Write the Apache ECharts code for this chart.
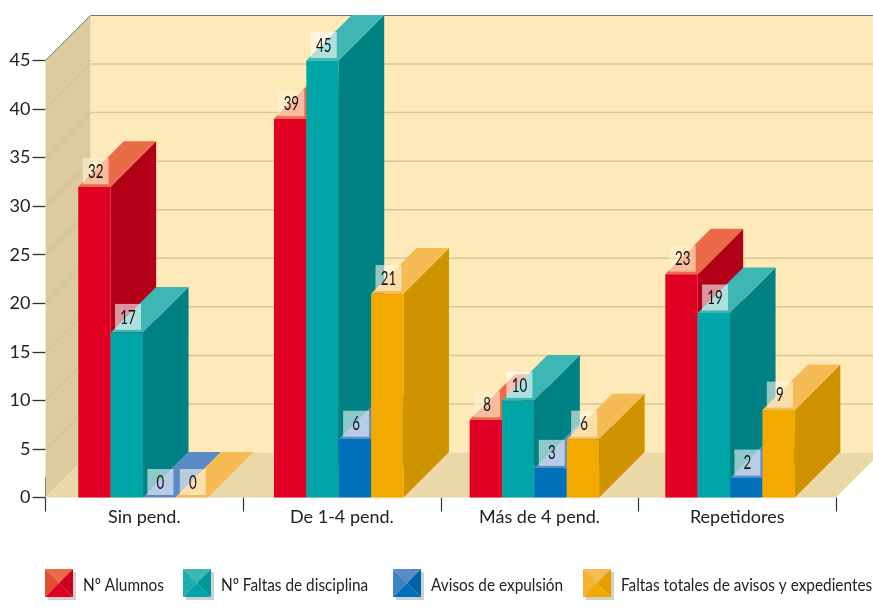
<!DOCTYPE html>
<html>
<head>
<meta charset="utf-8">
<style>html,body{margin:0;padding:0;background:#fff}#chart{width:873px;height:612px}</style>
<script src="https://cdn.jsdelivr.net/npm/echarts@6/dist/echarts.min.js"></script>
</head>
<body>
<div id="chart"></div>
<script>
const categories = ['Sin pend.', 'De 1-4 pend.', 'Más de 4 pend.', 'Repetidores'];
const alumnos = [32, 39, 8, 23];
const faltasDisciplina = [17, 45, 10, 19];
const avisosExpulsion = [0, 6, 3, 2];
const faltasTotales = [0, 21, 6, 9];
const yTicks = [0, 5, 10, 15, 20, 25, 30, 35, 40, 45];

const seriesNames = ['Nº Alumnos', 'Nº Faltas de disciplina', 'Avisos de expulsión', 'Faltas totales de avisos y expedientes'];
const seriesValues = [alumnos, faltasDisciplina, avisosExpulsion, faltasTotales];
const legendLefts = [45, 183, 393, 583];

// Face colours for each box: front, side, top, value tag, plus the two extra bevels of the key swatch
const palettes = [
  { front: '#E00024', side: '#B10018', top: '#EB6A48', tag: 'rgba(255,243,212,0.6)', bevelL: '#E54D33', bevelR: '#CB0020' },
  { front: '#00A5A8', side: '#008285', top: '#3DB6B4', tag: 'rgba(255,255,255,0.58)', bevelL: '#1CADAE', bevelR: '#00989B' },
  { front: '#0070BA', side: '#005C9A', top: '#5B8BC6', tag: 'rgba(255,255,255,0.56)', bevelL: '#3F83C4', bevelR: '#0063A8' },
  { front: '#F2A900', side: '#D09300', top: '#F5BB54', tag: 'rgba(255,250,235,0.58)', bevelL: '#F4B233', bevelR: '#E49E00' }
];

const WALL_DEPTH = 45;
const BAR_DEPTH = 45.5;
const BAR_SHARE = 0.1655;
const SANS = 'Lato, "Open Sans", sans-serif';

const poly = (points, fill) => ({ type: 'polygon', shape: { points }, style: { fill } });
const seg = (x1, y1, x2, y2, stroke, lineWidth) => ({
  type: 'line', shape: { x1, y1, x2, y2 }, style: { stroke, lineWidth }
});

// Back wall, side wall, floor and their rulings
function renderRoom(params, api) {
  const cs = params.coordSys;
  const x0 = cs.x, x1 = cs.x + cs.width;
  const y0 = api.coord([0, 0])[1];
  const yTop = api.coord([0, yTicks[yTicks.length - 1]])[1];
  const d = WALL_DEPTH;
  const children = [
    poly([[x0 + d, yTop - d], [x1 + d, yTop - d], [x1 + d, y0 - d], [x0 + d, y0 - d]], '#FEE9B8'),
    poly([[x0, yTop], [x0 + d, yTop - d], [x0 + d, y0 - d], [x0, y0]], '#DDCB9F'),
    poly([[x0, y0], [x0 + d, y0 - d], [x1 + d, y0 - d], [x1, y0]], '#EAD8A7')
  ];
  yTicks.slice(1, -1).forEach(v => {
    const y = api.coord([0, v])[1];
    children.push(seg(x0, y, x0 + d, y - d, '#CDBC92', 1));
    children.push(seg(x0 + d, y - d, x1 + d, y - d, '#D9C699', 1.5));
  });
  children.push(seg(x0, yTop, x0 + d, yTop - d, '#7C7360', 1));
  children.push(seg(x0 + d, yTop - d, x1 + d, yTop - d, '#7C7360', 1.2));
  children.push(seg(x0, y0 - 20, x0, y0, '#8A8370', 1));
  return { type: 'group', children };
}

// One extruded box per value, with its value tag sitting on the top face
function boxRenderer(seriesIndex) {
  const pal = palettes[seriesIndex];
  return function (params, api) {
    const cat = api.value(0), val = api.value(1);
    const [cx, yVal] = api.coord([cat, val]);
    const y0 = api.coord([cat, 0])[1];
    const w = api.size([1, 0])[0] * BAR_SHARE;
    const left = cx + (seriesIndex - seriesValues.length / 2) * w;
    const right = left + w;
    const d = BAR_DEPTH;
    const children = [
      poly([[right, y0], [right + d, y0 - d], [right + d, yVal - d], [right, yVal]], pal.side),
      poly([[left, yVal], [left + d, yVal - d], [right + d, yVal - d], [right, yVal]], pal.top),
      poly([[left, y0], [right, y0], [right, yVal], [left, yVal]], pal.front),
      { type: 'rect', shape: { x: left + 4.4, y: yVal - 28.5, width: 26, height: 26 },
        style: { fill: pal.tag } },
      { type: 'text', x: left + 17.4, y: yVal - 15, scaleX: 0.7, scaleY: 1,
        style: { text: String(val), font: '19px ' + SANS, fill: '#111',
                 align: 'center', verticalAlign: 'middle' } }
    ];
    return { type: 'group', children };
  };
}

// Bevelled square used as the key swatch, with its soft drop edge
function swatchIcon(pal) {
  const svg = `<svg xmlns="http://www.w3.org/2000/svg" width="31" height="31" viewBox="0 0 31 31">
<rect x="3" y="3" width="28" height="28" fill="#D0D0D0"/>
<polygon points="0,0 28,0 14,14" fill="${pal.top}"/>
<polygon points="0,0 14,14 0,28" fill="${pal.bevelL}"/>
<polygon points="28,0 28,28 14,14" fill="${pal.bevelR}"/>
<polygon points="0,28 14,14 28,28" fill="${pal.front}"/>
</svg>`;
  return 'image://data:image/svg+xml;charset=utf-8,' + encodeURIComponent(svg);
}

const chart = echarts.init(document.getElementById('chart'), null, { renderer: 'canvas' });

const option = {
  animation: false,
  backgroundColor: '#fff',
  grid: [
    { left: 45.5, right: 37, top: 60.5, bottom: 114.5 },
    { left: 45.2, width: 782.7, top: 60.5, bottom: 114.5 }
  ],
  xAxis: [
    {
      type: 'category', gridIndex: 0, data: categories,
      axisLine: { show: false },
      axisTick: { show: true, length: 14, lineStyle: { color: '#333', width: 1.2 } },
      axisLabel: { color: '#222', fontFamily: SANS, fontSize: 18, margin: 11 }
    },
    { type: 'category', gridIndex: 1, data: categories, show: false }
  ],
  yAxis: [
    {
      type: 'value', gridIndex: 0, min: 0, max: 45, interval: 5,
      axisLine: { show: false },
      axisTick: { show: true, length: 13, lineStyle: { color: '#333', width: 1.3 } },
      axisLabel: { color: '#222', fontFamily: SANS, fontSize: 18, margin: 15 },
      splitLine: { show: false }
    },
    { type: 'value', gridIndex: 1, min: 0, max: 45, interval: 5, show: false }
  ],
  legend: seriesNames.map((name, i) => ({
    left: legendLefts[i], top: 569, padding: 0,
    itemWidth: 31, itemHeight: 31,
    data: [{ name, icon: swatchIcon(palettes[i]) }],
    selectedMode: false,
    formatter: () => ''
  })),
  // Key captions are squeezed horizontally, which a legend's own text cannot do
  graphic: seriesNames.map((name, i) => ({
    type: 'text', left: legendLefts[i] + 38, top: 576, scaleX: 0.878, originX: 0,
    style: { text: name, font: '17.5px ' + SANS, fill: '#222' }
  })),
  series: [
    { type: 'custom', name: 'room', xAxisIndex: 0, yAxisIndex: 0, z: 1, silent: true,
      renderItem: renderRoom, data: [[0, 0]], clip: false }
  ].concat(seriesNames.map((name, i) => ({
    type: 'custom', name, xAxisIndex: 1, yAxisIndex: 1, z: 2 + i, silent: true,
    itemStyle: { color: palettes[i].front },
    renderItem: boxRenderer(i),
    encode: { x: 0, y: 1 },
    data: seriesValues[i].map((v, c) => [c, v]),
    clip: false
  })))
};
chart.setOption(option);
</script>
</body>
</html>
